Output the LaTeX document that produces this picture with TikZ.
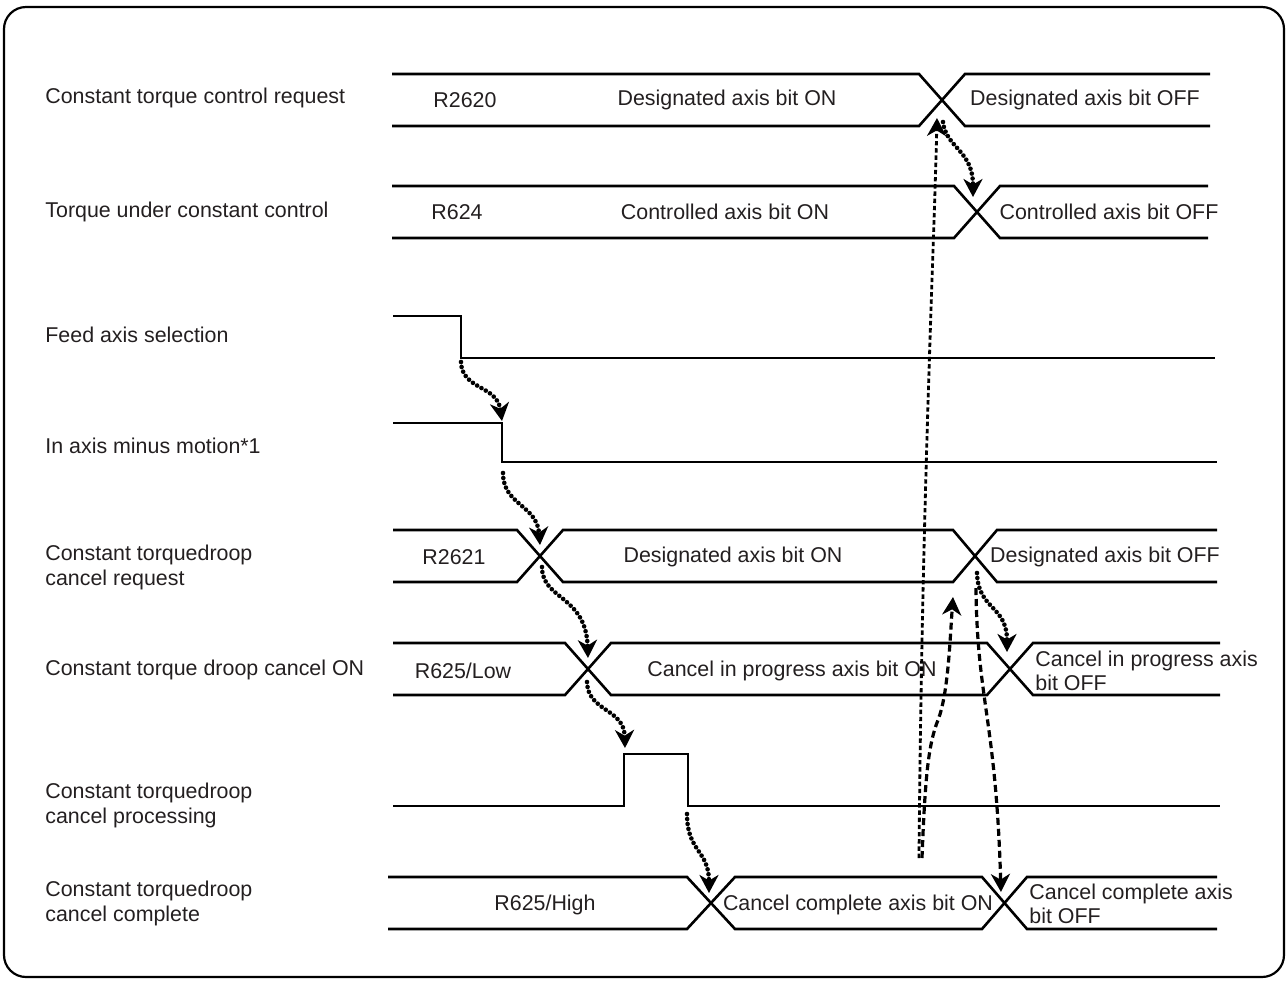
\documentclass[tikz,border=0pt]{standalone}
\usepackage{fontspec}
\setmainfont{Liberation Sans}
\usetikzlibrary{arrows.meta}
\definecolor{txt}{RGB}{35,31,32}
\begin{document}
\begin{tikzpicture}[x=0.5pt,y=-0.5pt,
  sig/.style={line width=1.3pt, line join=miter},
  lbl/.style={anchor=west, align=left, inner sep=0pt, font=\fontsize{10.7}{12.5}\selectfont, text=txt},
  val/.style={inner sep=0pt, font=\fontsize{10.7}{12}\selectfont, text=txt},
  tip/.style={-{Stealth[length=9pt,width=9.5pt,inset=2.8pt]}},
  dotarrow/.style={tip, line width=2.3pt, line cap=round, dash pattern=on 0pt off 2.5pt},
  finearrow/.style={tip, line width=1.4pt, dash pattern=on 2.2pt off 1.4pt},
  dasharrow/.style={tip, line width=1.6pt, dash pattern=on 3.5pt off 2pt}]
\useasboundingbox (0,0) rectangle (1287,981);
\draw[line width=1.1pt, rounded corners=11pt] (4,7) rectangle (1284,977);

% row labels
\node[lbl] (l1) at (45,98) {Constant torque control request};
\node[lbl] (l2) at (45,212) {Torque under constant control};
\node[lbl] (l3) at (45,335) {Feed axis selection};
\node[lbl] (l4) at (45,446) {In axis minus motion*1};
\node[lbl] (l5) at (45,567) {Constant torquedroop\\cancel request};
\node[lbl] (l6) at (45,670) {Constant torque droop cancel ON};
\node[lbl] (l7) at (45,805) {Constant torquedroop\\cancel processing};
\node[lbl] (l8) at (45,903) {Constant torquedroop\\cancel complete};

% signals
\draw[sig] (392,74) -- (919,74) -- (965,126) -- (1210,126);
\draw[sig] (392,126) -- (919,126) -- (965,74) -- (1210,74);
\draw[sig] (392,186) -- (954,186) -- (1000,238) -- (1208,238);
\draw[sig] (392,238) -- (954,238) -- (1000,186) -- (1208,186);
\draw[sig] (393,316) -- (461,316) -- (461,358) -- (1215,358);
\draw[sig] (393,423) -- (502,423) -- (502,462) -- (1217,462);
\draw[sig] (393,530) -- (517,530) -- (563,582) -- (953,582) -- (997,530) -- (1217,530);
\draw[sig] (393,582) -- (517,582) -- (563,530) -- (953,530) -- (997,582) -- (1217,582);
\draw[sig] (393,643) -- (565,643) -- (611,695) -- (987,695) -- (1033,643) -- (1220,643);
\draw[sig] (393,695) -- (565,695) -- (611,643) -- (987,643) -- (1033,695) -- (1220,695);
\draw[sig] (393,806) -- (624,806) -- (624,754) -- (688,754) -- (688,806) -- (1220,806);
\draw[sig] (388,877) -- (687,877) -- (735,929) -- (982,929) -- (1027,877) -- (1217,877);
\draw[sig] (388,929) -- (687,929) -- (735,877) -- (982,877) -- (1027,929) -- (1217,929);

% values
\node[val] (v1a) at (465,100) {R2620};
\node[val] (v1b) at (727,100) {Designated axis bit ON};
\node[val] (v1c) at (1085,100) {Designated axis bit OFF};
\node[val] (v2a) at (457,212) {R624};
\node[val] (v2b) at (725,212) {Controlled axis bit ON};
\node[val] (v2c) at (1109,212) {Controlled axis bit OFF};
\node[val] (v5a) at (454,557) {R2621};
\node[val] (v5b) at (733,557) {Designated axis bit ON};
\node[val] (v5c) at (1105,557) {Designated axis bit OFF};
\node[val] (v6a) at (463,671) {R625/Low};
\node[val] (v6b) at (792,671) {Cancel in progress axis bit ON};
\node[val,anchor=west,align=left] (v6c) at (1035,671) {Cancel in progress axis\\bit OFF};
\node[val] (v8a) at (545,905) {R625/High};
\node[val] (v8b) at (858,905) {Cancel complete axis bit ON};
\node[val,anchor=west,align=left] (v8c) at (1029,904) {Cancel complete axis\\bit OFF};

% arrow end points
\coordinate (a1s) at (461,362); \coordinate (a1e) at (502,421);
\coordinate (a2s) at (503,473); \coordinate (a2e) at (540,545);
\coordinate (a3s) at (542,567); \coordinate (a3e) at (588,658);
\coordinate (a4s) at (587,682); \coordinate (a4e) at (625,748);
\coordinate (a5s) at (687,814); \coordinate (a5e) at (709,893);
\coordinate (bs) at (943,122);  \coordinate (be) at (973,197);
\coordinate (ds) at (977,573);  \coordinate (de) at (1007,652);
\coordinate (as) at (919,858);  \coordinate (ae) at (937,118);
\coordinate (cs) at (922,858);  \coordinate (ce) at (953,597);
\coordinate (es) at (976,588);  \coordinate (ee) at (1001,892);

\draw[dotarrow] (a1s) .. controls (462,390) and (497,385) .. (a1e);
\draw[dotarrow] (a2s) .. controls (503,505) and (537,505) .. (a2e);
\draw[dotarrow] (a3s) .. controls (542,600) and (586,595) .. (a3e);
\draw[dotarrow] (a4s) .. controls (588,712) and (624,708) .. (a4e);
\draw[dotarrow] (a5s) .. controls (687,852) and (709,850) .. (a5e);
\draw[dotarrow] (bs) .. controls (946,148) and (973,150) .. (be);
\draw[dotarrow] (ds) .. controls (978,610) and (1007,605) .. (de);
\draw[finearrow] (as) .. controls (922,500) and (934,250) .. (ae);
\draw[dasharrow] (cs) .. controls (925,780) and (928,745) .. (938,720) .. controls (948,695) and (950,640) .. (ce);
\draw[dasharrow] (es) .. controls (977,700) and (996,720) .. (ee);
\end{tikzpicture}
\end{document}
